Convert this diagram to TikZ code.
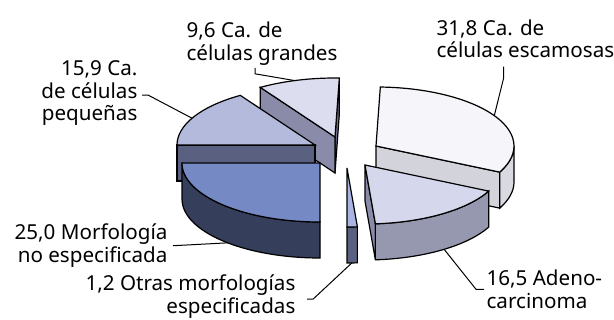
\documentclass[tikz,border=0pt]{standalone}
\usepackage{fontspec}
\setmainfont{Noto Sans}
\usepackage{tikz}
\usetikzlibrary{calc}
\definecolor{lavanda50}{HTML}{F5F5FA}
\definecolor{lavanda100}{HTML}{D5D8EC}
\definecolor{lavanda150}{HTML}{DCDDEE}
\definecolor{lavanda300}{HTML}{B3BADC}
\definecolor{gris200}{HTML}{D3D3DC}
\definecolor{gris250}{HTML}{D9D9E2}
\definecolor{gris400}{HTML}{9698B0}
\definecolor{gris500}{HTML}{8A8BA8}
\definecolor{gris600}{HTML}{70728F}
\definecolor{azul200}{HTML}{A9B5E0}
\definecolor{azul500}{HTML}{7589C4}
\definecolor{pizarra700}{HTML}{5A6180}
\definecolor{azul900}{HTML}{353E5A}
\tikzstyle{cara}=[draw=black, line join=miter]
\tikzstyle{rad}=[x radius=138, y radius=59]
\tikzstyle{etiqueta}=[font=\fontsize{20.6}{22.5}\selectfont, inner sep=0pt]
\tikzstyle{guia}=[draw=black, line width=1pt]

\begin{document}
\begin{tikzpicture}[x=1pt, y=1pt, very thick]
				\useasboundingbox (0,0) rectangle (614,-320);
				\coordinate (cGrandes) at (335,-137);
				\coordinate (cEscamosas) at (376,-146);
				\coordinate (cPequenas) at (315,-145);
				\coordinate (cMorfologia) at (320,-163);
				\coordinate (cOtras) at (347,-168);
				\coordinate (cAdeno) at (365,-165);
				\begin{scope}[shift={(cGrandes)}]
					\path[cara, fill=gris600] (0,0) -- (88.2:138 and 59) -- ++(0,-36) -- (0,-36) -- cycle;
					\path[cara, fill=gris500] (0,0) -- (122.76:138 and 59) -- ++(0,-36) -- (0,-36) -- cycle;
					\path[cara, fill=lavanda150] (0,0) -- (122.76:138 and 59)
						arc[rad, start angle=122.76, end angle=88.2] -- cycle;
				\end{scope}
				\begin{scope}[shift={(cEscamosas)}]
					\path[cara, fill=gris200] (0,0) -- (-26.28:138 and 59) -- ++(0,-36) -- (0,-36) -- cycle;
					\path[cara, fill=gris250] (-26.28:138 and 59) arc[rad, start angle=-26.28, end angle=0]
						-- ++(0,-36) arc[rad, start angle=0, end angle=-26.28] -- cycle;
					\path[cara, fill=lavanda50] (0,0) -- (-26.28:138 and 59)
						arc[rad, start angle=-26.28, end angle=88.2] -- cycle;
				\end{scope}
				\begin{scope}[shift={(cPequenas)}]
					\path[cara, fill=pizarra700] (0,0) -- (180:138 and 59) -- ++(0,-36) -- (0,-36) -- cycle;
					\path[cara, fill=lavanda300] (0,0) -- (180:138 and 59)
						arc[rad, start angle=180, end angle=122.76] -- cycle;
				\end{scope}
				\begin{scope}[shift={(cMorfologia)}]
					\path[cara, fill=azul900] (180:138 and 59) arc[rad, start angle=180, end angle=270]
						-- ++(0,-36) arc[rad, start angle=270, end angle=180] -- cycle;
					\path[cara, fill=azul500] (0,0) -- (180:138 and 59)
						arc[rad, start angle=180, end angle=270] -- cycle;
				\end{scope}
				\begin{scope}[shift={(cOtras)}]
					\path[cara, fill=pizarra700] (270:138 and 59) arc[rad, start angle=270, end angle=274.32]
						-- ++(0,-36) arc[rad, start angle=274.32, end angle=270] -- cycle;
					\path[cara, fill=azul200] (0,0) -- (270:138 and 59)
						arc[rad, start angle=270, end angle=274.32] -- cycle;
				\end{scope}
				\begin{scope}[shift={(cAdeno)}]
					\path[cara, fill=gris500] (0,0) -- (274.32:138 and 59) -- ++(0,-36) -- (0,-36) -- cycle;
					\path[cara, fill=gris400] (274.32:138 and 59) arc[rad, start angle=274.32, end angle=333.72]
						-- ++(0,-36) arc[rad, start angle=333.72, end angle=274.32] -- cycle;
					\path[cara, fill=lavanda100] (0,0) -- (274.32:138 and 59)
						arc[rad, start angle=274.32, end angle=333.72] -- cycle;
				\end{scope}
				\coordinate (pGrandes) at ($(cGrandes)+(107:138 and 59)$);
				\coordinate (pEscamosas) at ($(cEscamosas)+(31:138 and 59)$);
				\coordinate (pPequenas) at ($(cPequenas)+(153:138 and 59)$);
				\coordinate (pMorfologia) at ($(cMorfologia)+(0,-36)+(228:138 and 59)$);
				\coordinate (pOtras) at ($(cOtras)+(0,-36)+(272:138 and 59)$);
				\coordinate (pAdeno) at ($(cAdeno)+(0,-36)+(305:138 and 59)$);
				\node[etiqueta, anchor=north west, align=left] (eGrandes) at (186,-21.5) {9,6 Ca. de\\células grandes};
				\node[etiqueta, anchor=north west, align=left] (eEscamosas) at (436,-19) {31,8 Ca. de\\células escamosas};
				\node[etiqueta, anchor=north east, align=right] (ePequenas) at (138,-60) {15,9 Ca.\\de células\\pequeñas};
				\node[etiqueta, anchor=north east, align=right] (eMorfologia) at (168,-223.5) {25,0 Morfología\\no especificada};
				\node[etiqueta, anchor=north east, align=right] (eOtras) at (296,-274.5) {1,2 Otras morfologías\\especificadas};
				\node[etiqueta, anchor=north west, align=left] (eAdeno) at (486,-269.5) {16,5 Adeno-\\carcinoma};
				\path[guia] (255,-64 |- eGrandes.south) ++(0,-2) -- ++(0,-6) -- (pGrandes);
				\path[guia] ([xshift=67.5pt, yshift=-8pt]eEscamosas.south west) -- ++(0,-12) -- (pEscamosas);
				\path[guia] ([xshift=4pt, yshift=-2pt]ePequenas.east) -- ++(6,0) -- (pPequenas);
				\path[guia] ([xshift=5pt]eMorfologia.east) -- (pMorfologia);
				\path[guia] ([xshift=11pt, yshift=-2.5pt]eOtras.east) -- ++(6,0) -- (pOtras);
				\path[guia] ([xshift=-2pt]eAdeno.west) -- ++(-8,0) -- (pAdeno);
			\end{tikzpicture}
\end{document}
